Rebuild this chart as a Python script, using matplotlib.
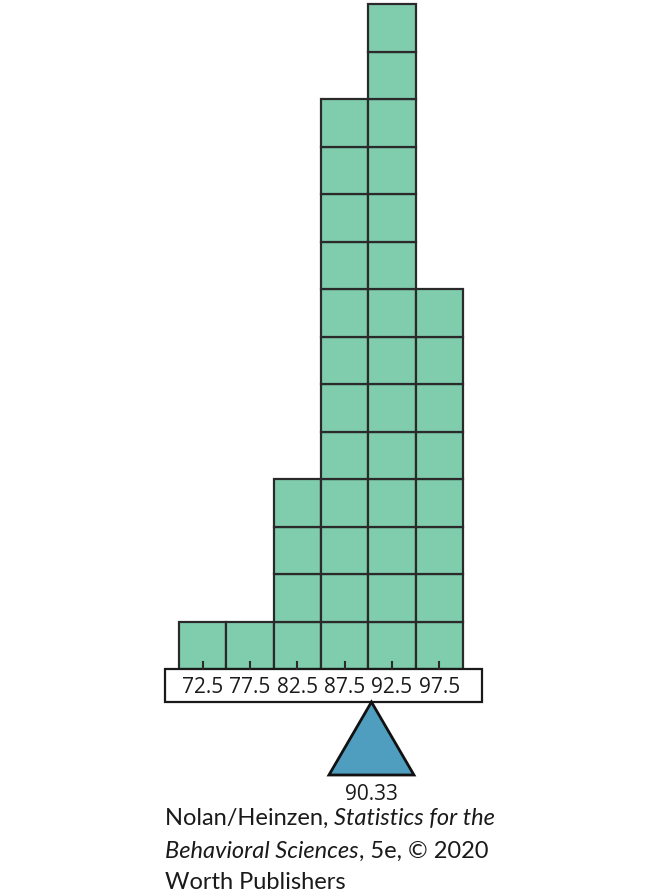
import matplotlib
matplotlib.use("Agg")
import matplotlib.pyplot as plt
from matplotlib.patches import Rectangle, Polygon

# Data
bin_centers = [72.5, 77.5, 82.5, 87.5, 92.5, 97.5]
counts = [1, 1, 4, 12, 14, 8]
tick_labels = ["72.5", "77.5", "82.5", "87.5", "92.5", "97.5"]
mean_value = 90.33
mean_label = "90.33"

FONT = "Open Sans"
CFONT = "Lato"
W, H = 645, 895
fig = plt.figure(figsize=(W / 100, H / 100), dpi=100)
ax = fig.add_axes([0, 0, 1, 1])
ax.axis("off")

# pixel mapping: x=70 at px 179, 9.467 px/unit; y=0 at py 670, 47.5 px/unit
xpx = 284 / 30.0
ypx = 47.5
ax.set_xlim(70 - 179 / xpx, 70 + (W - 179) / xpx)
ax.set_ylim(-(H - 670) / ypx, 670 / ypx)

bar_color = "#80cdae"
edge = "#2a2a2a"
bw = 5.0
for c, n in zip(bin_centers, counts):
    for k in range(n):
        ax.add_patch(Rectangle((c - bw / 2, k), bw, 1, facecolor=bar_color,
                               edgecolor=edge, linewidth=1.6, zorder=2))

# scale box
box_h = 33 / ypx
ax.add_patch(Rectangle((68.5, -box_h), 33.5, box_h, facecolor="white",
                       edgecolor="#1a1a1a", linewidth=1.6, zorder=3))
for c, lab in zip(bin_centers, tick_labels):
    ax.plot([c, c], [0, 7 / ypx], color=edge, linewidth=1.5, zorder=3)
    ax.text(c, -23 / ypx, lab, ha="center", va="baseline", fontsize=15,
            family=FONT, color="#1a1a1a", zorder=4)

# fulcrum triangle
half = 42.5 / xpx
base_y = -106 / ypx
ax.add_patch(Polygon([(mean_value, -box_h), (mean_value - half, base_y),
                      (mean_value + half, base_y)], closed=True,
                     facecolor="#4f9ebf", edgecolor="#111111", linewidth=2,
                     zorder=3))
ax.text(mean_value, -130 / ypx, mean_label, ha="center", va="baseline",
        fontsize=15, family=FONT, color="#1a1a1a")

# credit lines (pixel positioning)
fig.canvas.draw()
renderer = fig.canvas.get_renderer()
lines = [
    [("Nolan/Heinzen, ", "normal"), ("Statistics for the", "italic")],
    [("Behavioral Sciences", "italic"), (", 5e, \u00a9 2020", "normal")],
    [("Worth Publishers", "normal")],
]
baselines = [825, 858, 889]
fs = 17
for parts, by in zip(lines, baselines):
    x = 165
    for txt, style in parts:
        t = fig.text(x / W, 1 - by / H, txt, ha="left", va="baseline",
                     fontsize=fs, family=CFONT, style=style, color="#1a1a1a")
        bb = t.get_window_extent(renderer)
        x = bb.x1

fig.savefig("out.png", dpi=100)
